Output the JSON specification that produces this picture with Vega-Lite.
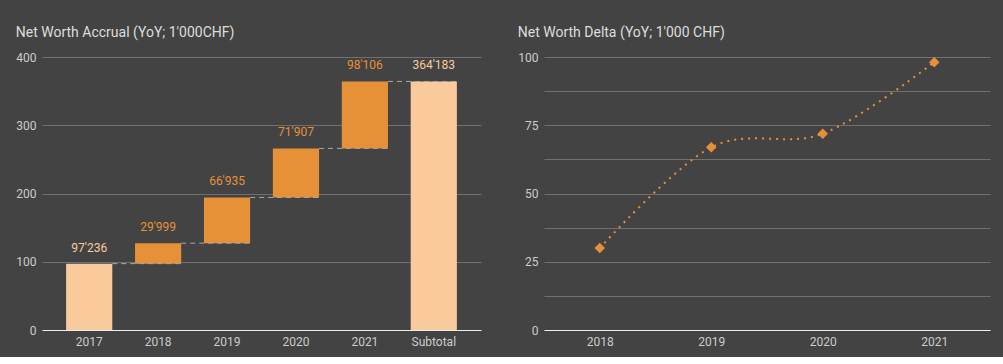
{
  "$schema": "https://vega.github.io/schema/vega-lite/v6.json",
  "background": "#434343",
  "padding": {"left": 15, "top": 26, "right": 15, "bottom": 10},
  "config": {
    "font": "Roboto",
    "view": {"stroke": null},
    "title": {"anchor": "start", "frame": "bounds", "fontSize": 14, "fontWeight": "normal", "color": "#dddddd", "offset": 11},
    "axis": {"labelColor": "#cccccc", "labelFontSize": 12, "domain": false, "ticks": false, "gridColor": "#707070", "labelPadding": 6, "title": null}
  },
  "datasets": {
    "waterfall": [
      {"cat": "2017", "start": 0, "end": 97.236, "label": "97'236", "kind": "total", "next": "2018"},
      {"cat": "2018", "start": 97.236, "end": 127.235, "label": "29'999", "kind": "delta", "next": "2019"},
      {"cat": "2019", "start": 127.235, "end": 194.17, "label": "66'935", "kind": "delta", "next": "2020"},
      {"cat": "2020", "start": 194.17, "end": 266.077, "label": "71'907", "kind": "delta", "next": "2021"},
      {"cat": "2021", "start": 266.077, "end": 364.183, "label": "98'106", "kind": "delta", "next": "Subtotal"},
      {"cat": "Subtotal", "start": 0, "end": 364.183, "label": "364'183", "kind": "total", "next": null}
    ],
    "delta": [
      {"year": "2018", "value": 29.999},
      {"year": "2019", "value": 66.935},
      {"year": "2020", "value": 71.907},
      {"year": "2021", "value": 98.106}
    ]
  },
  "spacing": 36,
  "hconcat": [
    {
      "title": "Net Worth Accrual (YoY; 1'000CHF)",
      "width": 439,
      "height": 273,
      "data": {"name": "waterfall"},
      "layer": [
        {
          "mark": {"type": "bar"},
          "encoding": {
            "x": {
              "field": "cat", "type": "nominal",
              "scale": {"domain": ["2017", "2018", "2019", "2020", "2021", "Subtotal"], "paddingInner": 0.33, "paddingOuter": 0.35},
              "axis": {"labelAngle": 0, "domain": true, "domainColor": "#eeeeee", "domainWidth": 1, "grid": false}
            },
            "y": {
              "field": "start", "type": "quantitative",
              "scale": {"domain": [0, 400]},
              "axis": {"values": [0, 100, 200, 300, 400], "grid": true}
            },
            "y2": {"field": "end"},
            "color": {
              "field": "kind", "type": "nominal",
              "scale": {"domain": ["total", "delta"], "range": ["#f9cb9c", "#e69138"]},
              "legend": null
            }
          }
        },
        {
          "transform": [{"filter": "datum.next != null"}],
          "mark": {"type": "rule", "strokeDash": [5, 4], "color": "#a8a8a8", "strokeWidth": 1},
          "encoding": {
            "x": {"field": "cat", "type": "nominal", "bandPosition": 1},
            "x2": {"field": "next", "bandPosition": 1},
            "y": {"field": "end", "type": "quantitative"}
          }
        },
        {
          "mark": {"type": "text", "baseline": "bottom", "dy": -9, "fontSize": 12},
          "encoding": {
            "x": {"field": "cat", "type": "nominal"},
            "y": {"field": "end", "type": "quantitative"},
            "text": {"field": "label"},
            "color": {"field": "kind", "type": "nominal", "legend": null}
          }
        }
      ]
    },
    {
      "title": "Net Worth Delta (YoY; 1'000 CHF)",
      "width": 446,
      "height": 273,
      "data": {"name": "delta"},
      "encoding": {
        "x": {
          "field": "year", "type": "ordinal",
          "scale": {"type": "point", "padding": 0.5},
          "axis": {"labelAngle": 0, "domain": true, "domainColor": "#eeeeee", "domainWidth": 1, "grid": false}
        },
        "y": {
          "field": "value", "type": "quantitative",
          "scale": {"domain": [0, 100]},
          "axis": {"values": [0, 12.5, 25, 37.5, 50, 62.5, 75, 87.5, 100], "grid": true, "labelExpr": "datum.value % 25 == 0 ? datum.label : ''"}
        }
      },
      "layer": [
        {"mark": {"type": "line", "interpolate": "cardinal", "strokeDash": [2, 5], "strokeWidth": 2, "color": "#e69138"}},
        {"mark": {"type": "point", "shape": "diamond", "filled": true, "size": 110, "opacity": 1, "color": "#e69138"}}
      ]
    }
  ]
}
